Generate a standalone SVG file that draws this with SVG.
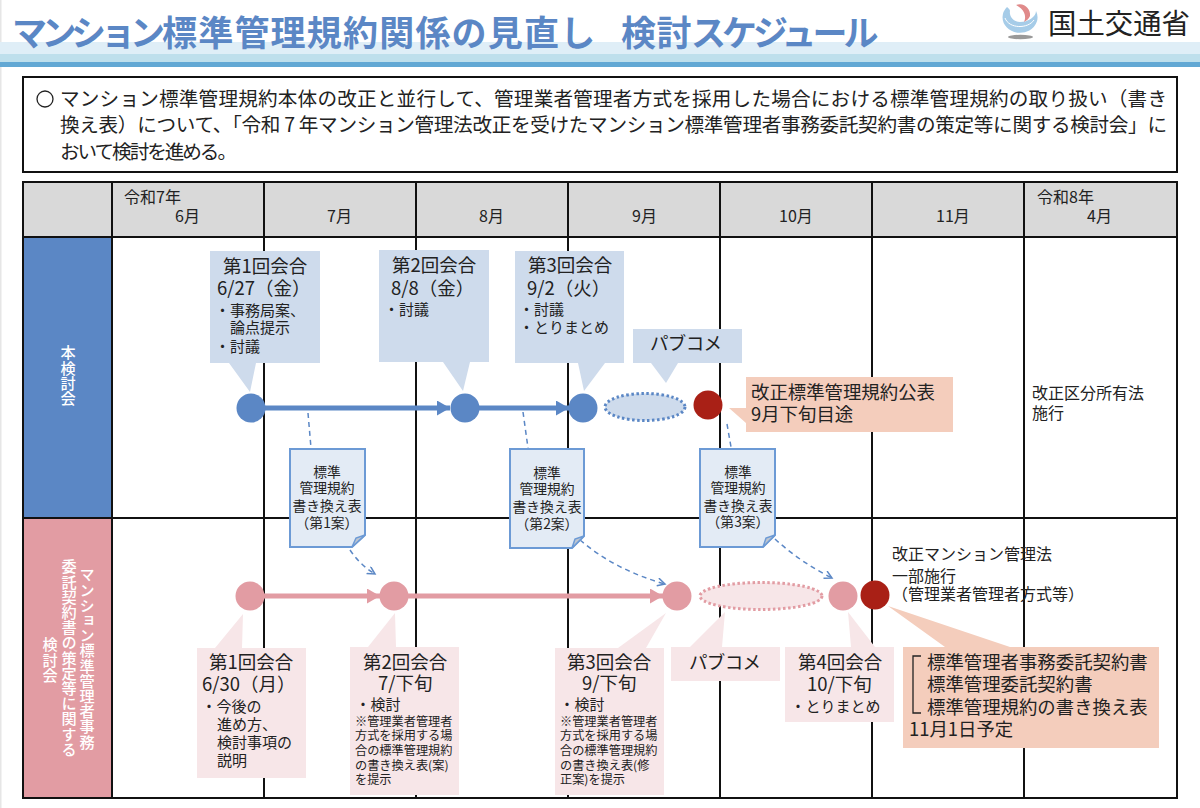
<svg xmlns="http://www.w3.org/2000/svg" width="1200" height="808" viewBox="0 0 1200 808">
<style>
text{font-family:"Noto Sans CJK JP","Noto Sans",sans-serif;fill:#222}
.grid{stroke:#111;stroke-width:2;fill:none}
.h{font-size:18.5px}.b{font-size:15px}.s{font-size:12.2px}.m{font-size:16px}.d{font-size:13.8px;text-anchor:middle}.o{font-size:18.4px}
.bl{fill:#CEDBEC}.pk{fill:#F7E6E8}.or{fill:#F4CDBC}
.nb{fill:#5B87C5}.np{fill:#E29CA3}.nr{fill:#A92016}
.doc{fill:#E3EBF5;stroke:#6C9AD5;stroke-width:2}
.fold{fill:#BFC6D0;stroke:#6C9AD5;stroke-width:1.5}
.v{font-size:15.2px;font-weight:500;fill:#fff;writing-mode:vertical-rl}
.dash{fill:none;stroke:#5B87C5;stroke-width:1.5;stroke-dasharray:5 4}
</style>
<defs>
<marker id="ab" markerUnits="userSpaceOnUse" markerWidth="14" markerHeight="16" refX="13" refY="7.5" orient="auto"><path d="M0 0L13 7.5L0 15Z" fill="#5B87C5"/></marker>
<marker id="ap" markerUnits="userSpaceOnUse" markerWidth="14" markerHeight="16" refX="13" refY="7.5" orient="auto"><path d="M0 0L13 7.5L0 15Z" fill="#E29CA3"/></marker>
<marker id="ad" markerUnits="userSpaceOnUse" markerWidth="10" markerHeight="10" refX="8" refY="4.5" orient="auto"><path d="M0.5 0.5L8 4.5L0.5 8.5" fill="none" stroke="#5B87C5" stroke-width="1.5"/></marker>
</defs>
<rect width="1200" height="808" fill="#fff"/>
<rect width="1.5" height="808" fill="#e6e6e6"/>

<g id="band">
<rect x="0" y="42" width="1200" height="12" fill="#DFEEF7"/>
<rect x="0" y="54" width="1200" height="8" fill="#BEDFEC"/>
<rect x="0" y="62" width="1200" height="5" fill="#62A8D4"/>
</g>
<text id="title" y="46" font-size="35" font-weight="700" style="fill:#5B87C5"><tspan x="12" letter-spacing="-5.5">マンション</tspan><tspan x="162" letter-spacing="1.2">標準管理規約関係の見直し</tspan><tspan x="621" letter-spacing="0.5">検討</tspan><tspan x="691" letter-spacing="-4">スケジュール</tspan></text>

<g id="logo">
<path d="M1007 7A17.5 15.5 0 1 0 1036 11C1036 17 1028 22 1020 22C1013 22 1009 16 1010 11C1010 9 1008 8 1007 7Z" fill="#A6CCE8"/>
<path d="M1005 18C1009 29 1028 29 1034 20" fill="none" stroke="#fff" stroke-width="1"/>
<path d="M1016 5C1024 2 1031 9 1030 16C1029 19 1026 21 1024 22C1027 16 1024 9 1016 5Z" fill="#E08A8A"/>
<ellipse cx="1020.5" cy="37" rx="12.5" ry="2.2" fill="#999"/>
<text x="1048" y="34" font-size="28.4" style="fill:#222">国土交通省</text>
</g>

<g id="intro">
<rect x="23" y="77" width="1154" height="95" fill="#fff" stroke="#111" stroke-width="2"/>
<circle cx="45" cy="99" r="8" fill="none" stroke="#222" stroke-width="1.3"/>
<text x="60" y="106" font-size="19.6" textLength="1107">マンション標準管理規約本体の改正と並行して、管理業者管理者方式を採用した場合における標準管理規約の取り扱い（書き</text>
<text x="60" y="132" font-size="19.6" textLength="1107">換え表）について、「令和 7 年マンション管理法改正を受けたマンション標準管理者事務委託契約書の策定等に関する検討会」に</text>
<text x="60" y="159" font-size="19.6" textLength="177">おいて検討を進める。</text>
</g>

<g id="table">
<rect x="24" y="183" width="1153" height="54" fill="#D9D9D9"/>
<rect x="24" y="238" width="88" height="280" fill="#5B87C5"/>
<rect x="24" y="518" width="88" height="279" fill="#E29CA3"/>
<path class="grid" d="M23 182H1177V798H23ZM23 237H1177M23 518H1177M112 182V798M264 182V798M416 182V798M568 182V798M720 182V798M872 182V798M1024 182V798"/>
<text class="m" x="124" y="203">令和7年</text><text class="m" x="175" y="222">6月</text>
<text class="m" x="327" y="222">7月</text><text class="m" x="479" y="222">8月</text><text class="m" x="632" y="222">9月</text>
<text class="m" x="779" y="222">10月</text><text class="m" x="936" y="222">11月</text>
<text class="m" x="1037" y="203">令和8年</text><text class="m" x="1087" y="222">4月</text>
<text class="v" x="68" y="345">本検討会</text>
<text class="v" x="87" y="567">マンション標準管理者事務</text>
<text class="v" x="69" y="559">委託契約書の策定等に関する</text>
<text class="v" x="50" y="637">検討会</text>
</g>

<g id="connectors">
<line x1="265" y1="408" x2="450" y2="408" stroke="#5B87C5" stroke-width="5" marker-end="url(#ab)"/>
<line x1="479" y1="408" x2="569" y2="408" stroke="#5B87C5" stroke-width="5" marker-end="url(#ab)"/>
<line x1="264" y1="596" x2="380" y2="596" stroke="#E29CA3" stroke-width="5" marker-end="url(#ap)"/>
<line x1="408" y1="596" x2="663" y2="596" stroke="#E29CA3" stroke-width="5" marker-end="url(#ap)"/>
<path class="dash" d="M308 413L311 448"/>
<path class="dash" d="M523 412L528 448"/>
<path class="dash" d="M727 424L731 447"/>
<path class="dash" d="M350 550Q360 565 375 574" marker-end="url(#ad)"/>
<path class="dash" d="M580 540Q615 570 665 584" marker-end="url(#ad)"/>
<path class="dash" d="M775 539Q800 562 832 578" marker-end="url(#ad)"/>
</g>

<g id="call1"><path class="bl" d="M210 251H320V363H256L250 392L229 363H210Z"/>
<text class="h" x="223" y="273">第1回会合</text><text class="h" x="217" y="295">6/27（金）</text>
<text class="b" x="215" y="315.5">・事務局案、</text><text class="b" x="230" y="332.5">論点提示</text><text class="b" x="215" y="351.5">・討議</text></g>
<g id="call2"><path class="bl" d="M379 250H489V362H470L463 391L443 362H379Z"/>
<text class="h" x="392" y="272">第2回会合</text><text class="h" x="391" y="295">8/8（金）</text><text class="b" x="384" y="314.5">・討議</text></g>
<g id="call3"><path class="bl" d="M515 251H624V363H605L584 391L578 363H515Z"/>
<text class="h" x="528" y="272">第3回会合</text><text class="h" x="527" y="295">9/2（火）</text>
<text class="b" x="519" y="314.5">・討議</text><text class="b" x="519" y="332.5">・とりまとめ</text></g>
<g id="pubcom1"><path class="bl" d="M633 329H742V363H678L666 383L651 363H633Z"/><text class="h" x="650" y="350" textLength="72">パブコメ</text></g>
<g id="publish"><path class="or" d="M746 377H953V432H746V423L729 408H746Z"/>
<text class="o" x="751" y="398.6">改正標準管理規約公表</text><text class="o" x="751" y="421">9月下旬目途</text></g>
<g id="law-note"><text class="m" x="1032" y="399">改正区分所有法</text><text class="m" x="1032" y="419">施行</text></g>

<g id="b1"><circle class="nb" cx="251" cy="408" r="14.5"/></g>
<g id="b2"><circle class="nb" cx="465" cy="408" r="14.5"/></g>
<g id="b3"><circle class="nb" cx="583" cy="408" r="14.5"/></g>
<g id="b-pub"><ellipse cx="645" cy="407" rx="40" ry="13.5" fill="#CEDBEC" stroke="#5B87C5" stroke-width="3" stroke-dasharray="2.5 2.5"/></g>
<g id="b-red"><circle class="nr" cx="708" cy="405" r="14.5"/></g>

<g id="doc1"><path class="doc" d="M290 449H365V535L352 547H290Z"/><path class="fold" d="M365 535L356 538L352 547Z"/>
<text class="d" x="327" y="477">標準</text><text class="d" x="327" y="493">管理規約</text><text class="d" x="327" y="511">書き換え表</text><text class="d" x="327" y="528">（第1案）</text></g>
<g id="doc2"><path class="doc" d="M510 449H584V536L572 548H510Z"/><path class="fold" d="M584 536L575 539L572 548Z"/>
<text class="d" x="547" y="478">標準</text><text class="d" x="547" y="494">管理規約</text><text class="d" x="547" y="512">書き換え表</text><text class="d" x="547" y="529">（第2案）</text></g>
<g id="doc3"><path class="doc" d="M700 449H775V535L763 547H700Z"/><path class="fold" d="M775 535L766 538L763 547Z"/>
<text class="d" x="738" y="477">標準</text><text class="d" x="738" y="493">管理規約</text><text class="d" x="738" y="511">書き換え表</text><text class="d" x="738" y="527">（第3案）</text></g>

<g id="p1"><circle class="np" cx="250" cy="596" r="14.5"/></g>
<g id="p2"><circle class="np" cx="394" cy="596" r="14.5"/></g>
<g id="p3"><circle class="np" cx="677" cy="596" r="14.5"/></g>
<g id="p-pub"><ellipse cx="761" cy="596" rx="61" ry="13.5" fill="#F7E6E8" stroke="#E29CA3" stroke-width="3" stroke-dasharray="2.5 2.5"/></g>
<g id="p4"><circle class="np" cx="843" cy="596" r="14.5"/></g>
<g id="p-red"><circle class="nr" cx="875" cy="595" r="14.5"/></g>

<g id="law-note2"><text class="m" x="892" y="560">改正マンション管理法</text><text class="m" x="892" y="582">一部施行</text><text class="m" x="892" y="600">（管理業者管理者方式等）</text></g>

<g id="pcall1"><path class="pk" d="M197 648H215L243 614L242 648H306V778H197Z"/>
<text class="h" x="209" y="669">第1回会合</text><text class="h" x="202" y="691">6/30（月）</text>
<text class="b" x="201.5" y="711.5">・今後の</text><text class="b" x="217" y="729.5">進め方、</text><text class="b" x="217" y="747.5">検討事項の</text><text class="b" x="217" y="765.5">説明</text></g>
<g id="pcall2"><path class="pk" d="M350 647H368L395 613L396 647H459V795H350Z"/>
<text class="h" x="363" y="669">第2回会合</text><text class="h" x="378" y="690">7/下旬</text><text class="b" x="355.5" y="709.5">・検討</text>
<text class="s" x="355" y="726.4">※管理業者管理者</text><text class="s" x="355" y="740.4">方式を採用する場</text><text class="s" x="355" y="755.4">合の標準管理規約</text><text class="s" x="355" y="770.4">の書き換え表(案)</text><text class="s" x="355" y="784.4">を提示</text></g>
<g id="pcall3"><path class="pk" d="M555 648H618L666 613L646 648H664V795H555Z"/>
<text class="h" x="567" y="669">第3回会合</text><text class="h" x="582" y="690">9/下旬</text><text class="b" x="559.5" y="709.5">・検討</text>
<text class="s" x="560" y="726.4">※管理業者管理者</text><text class="s" x="560" y="740.4">方式を採用する場</text><text class="s" x="560" y="755.4">合の標準管理規約</text><text class="s" x="560" y="770.4">の書き換え表(修</text><text class="s" x="560" y="784.4">正案)を提示</text></g>
<g id="pubcom2"><path class="pk" d="M671 647H690L725 612L722 647H780V681H671Z"/><text class="h" x="689" y="669" textLength="72">パブコメ</text></g>
<g id="pcall4"><path class="pk" d="M785 647H851L848 612L875 647H894V722H785Z"/>
<text class="h" x="798" y="669">第4回会合</text><text class="h" x="807" y="691">10/下旬</text><text class="b" x="790.5" y="711.5">・とりまとめ</text></g>
<g id="result"><path class="or" d="M903 647H945L888 606L1010 647H1159V748H903Z"/>
<path d="M921 656H913V713H921" fill="none" stroke="#222" stroke-width="1.3"/>
<text class="o" x="927" y="669">標準管理者事務委託契約書</text><text class="o" x="927" y="691">標準管理委託契約書</text><text class="o" x="927" y="713.5">標準管理規約の書き換え表</text><text class="o" x="909" y="736">11月1日予定</text></g>
</svg>
